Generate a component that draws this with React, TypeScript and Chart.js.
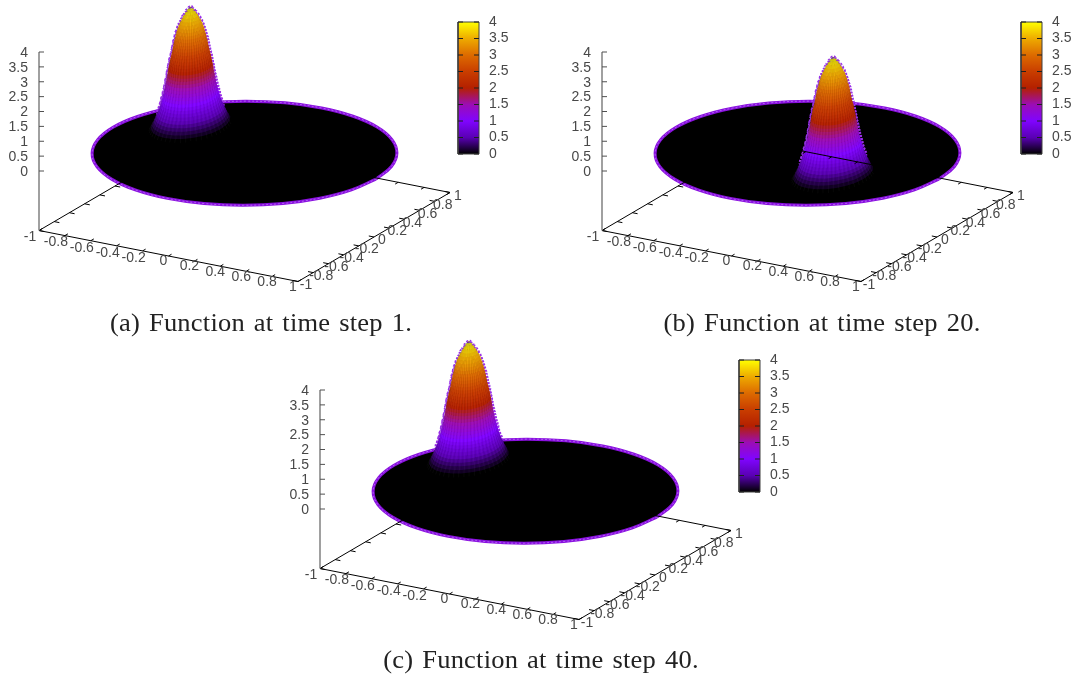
import React, { useEffect, useRef } from "react";
import { Chart, registerables } from "chart.js";

Chart.register(...registerables);

// ---------- data ----------
const captions = ["(a) Function at time step 1.", "(b) Function at time step 20.", "(c) Function at time step 40."];
const peakCenterX = [-0.57, 0.385, -0.62];
const peakCenterY = [0.26, -0.32, 0.31];
const peakSpreadX = 0.235;
const peakSpreadY = 0.34;
const peakLevels = [0, 0.1, 0.2, 0.3, 0.4, 0.5, 0.6, 0.7, 0.8, 0.9, 1, 1.1, 1.2, 1.3, 1.4, 1.5, 1.6, 1.7, 1.8, 1.9, 2, 2.1, 2.2, 2.3, 2.4, 2.5, 2.6, 2.7, 2.8, 2.9, 3, 3.1, 3.2, 3.3, 3.4, 3.5, 3.6, 3.7, 3.8, 3.9, 4];
const peakRadii = [1.04, 1, 0.96, 0.92, 0.885, 0.85, 0.815, 0.785, 0.76, 0.74, 0.72, 0.7, 0.68, 0.66, 0.645, 0.63, 0.615, 0.6, 0.585, 0.575, 0.56, 0.545, 0.53, 0.515, 0.495, 0.475, 0.46, 0.445, 0.43, 0.415, 0.395, 0.375, 0.355, 0.33, 0.305, 0.27, 0.23, 0.19, 0.14, 0.09, 0.02];
const discRadius = 1.015;
const discLevel = -0.04;
const discX = [1, 0.966, 0.866, 0.707, 0.5, 0.259, 0, -0.259, -0.5, -0.707, -0.866, -0.966, -1, -0.966, -0.866, -0.707, -0.5, -0.259, 0, 0.259, 0.5, 0.707, 0.866, 0.966, 1];
const discY = [0, 0.259, 0.5, 0.707, 0.866, 0.966, 1, 0.966, 0.866, 0.707, 0.5, 0.259, 0, -0.259, -0.5, -0.707, -0.866, -0.966, -1, -0.966, -0.866, -0.707, -0.5, -0.259, 0];
const xyTicks = [-1, -0.8, -0.6, -0.4, -0.2, 0, 0.2, 0.4, 0.6, 0.8, 1];
const zTicks = [0, 0.5, 1, 1.5, 2, 2.5, 3, 3.5, 4];
const paletteStops = ["#000000", "#5a00b4", "#8004ff", "#9c0db4", "#b42000", "#c93e00", "#dd6b00", "#eeab00", "#ffff00"];

// ---------- layout ----------
const W = 518;
const H = 312;
const panelLeft = [0, 563, 281];
const panelTop = [0, 0, 338];
const captionCx = [261, 822, 541];
const captionY = [324, 324, 661];
const FONT = '14px "Liberation Sans"';
const TEXT = "#484848";
const BASE_Z = -2;
const STREAKS = 48;

const project = (x: number, y: number, z: number) => ({
  x: 244.5 + 129.5 * x + 76 * y,
  y: 152 + 25.5 * x - 44.5 * y - 29.75 * z,
});
const cb = (c: number, z: number) => ({ x: c, y: 154 - 33 * z });
const gap = { x: NaN, y: NaN };

const hexRgb = (h: string) => [1, 3, 5].map((i) => parseInt(h.slice(i, i + 2), 16));
const paletteAt = (z: number) => {
  const t = Math.min(0.9999, Math.max(0, z / 4)) * (paletteStops.length - 1);
  const i = Math.floor(t);
  const a = hexRgb(paletteStops[i]);
  const b = hexRgb(paletteStops[i + 1]);
  const f = t - i;
  return `rgb(${a.map((v, k) => Math.round(v + (b[k] - v) * f)).join(",")})`;
};

const ring = (cx: number, cy: number, r: number, z: number) =>
  discX.map((u, i) => project(cx + r * peakSpreadX * u, cy + r * peakSpreadY * discY[i], z));

const segs = (list: { x: number; y: number }[][]) => list.flatMap((s) => [...s, gap]);

function Panel({ index }: { index: number }) {
  const ref = useRef<HTMLCanvasElement>(null);
  useEffect(() => {
    const canvas = ref.current!;
    const ctx = canvas.getContext("2d")!;
    const cx = peakCenterX[index];
    const cy = peakCenterY[index];

    const grad = ctx.createLinearGradient(0, cb(0, 0).y, 0, cb(0, 4).y);
    paletteStops.forEach((c, i) => grad.addColorStop(i / (paletteStops.length - 1), c));

    const line = (data: any[], color: string, width = 1, extra: any = {}) => ({
      data, borderColor: color, borderWidth: width, showLine: true, pointRadius: 0, fill: false, tension: 0, ...extra,
    });

    const discPts = discX.map((u, i) => project(discRadius * u, discRadius * discY[i], discLevel));
    const fringe = peakLevels
      .map((z, i) => ({ z, r: peakRadii[i] }))
      .filter((l) => l.z >= 0.6)
      .map((l) => line(ring(cx, cy, l.r + 0.03, l.z), "#9a30e8", 1.6, { borderDash: [2, 1.5] }));
    const rings = peakLevels.map((z, i) =>
      line(ring(cx, cy, peakRadii[i], z), paletteAt(z), 0, { fill: "shape", backgroundColor: paletteAt(z), borderWidth: 0 })
    );

    // fine mesh streaks running down the near side of the peak
    const streaks = Array.from({ length: STREAKS }, (_, k) => {
      const a = (k / (STREAKS - 1)) * Math.PI;
      const dirX = Math.cos(a + 0.55) * -1;
      const dirY = -Math.sin(a + 0.55);
      const pts = peakLevels.map((z, i) =>
        project(cx + peakRadii[i] * peakSpreadX * dirX, cy + peakRadii[i] * peakSpreadY * dirY, z)
      );
      return line(pts, k % 2 ? "rgba(0,0,0,0.07)" : "rgba(255,255,255,0.03)", 1);
    });

    const frame = [
      [project(-1, -1, BASE_Z), project(1, -1, BASE_Z), project(1, 1, BASE_Z), project(-1, 1, BASE_Z), project(-1, -1, BASE_Z)],
    ];
    const tickLen = 0.04;
    const xyMarks = xyTicks.flatMap((t) => [
      [project(t, -1, BASE_Z), project(t, -1 + tickLen, BASE_Z)],
      [project(t, 1, BASE_Z), project(t, 1 - tickLen, BASE_Z)],
      [project(1, t, BASE_Z), project(1 - tickLen, t, BASE_Z)],
      [project(-1, t, BASE_Z), project(-1 + tickLen, t, BASE_Z)],
    ]);
    const zAxis = [[project(-1, -1, BASE_Z), project(-1, -1, 4)]];
    const zMarks = zTicks.map((t) => {
      const p = project(-1, -1, t);
      return [p, { x: p.x + 5, y: p.y }];
    });
    const cbMarks = zTicks.flatMap((t) => [
      [cb(458, t), cb(463, t)],
      [cb(479, t), cb(474, t)],
    ]);

    const datasets: any[] = [
      line(discPts, "#8a10e0", 3, { fill: "shape", backgroundColor: "#000000", tension: 0.4 }),
      line(discPts, "#b060f0", 1, { borderDash: [2, 2], tension: 0.4 }),
      ...fringe,
      ...rings,
      ...streaks,
      line(segs(frame), "#000000"),
      line(segs(xyMarks), "#000000"),
      line(segs(zAxis), "#808080", 1.5),
      line(segs(zMarks), "#505050"),
      line([cb(458, 0), cb(479, 0), cb(479, 4), cb(458, 4), cb(458, 0)], "#404040", 1, { fill: "shape", backgroundColor: grad }),
      line(segs(cbMarks), "#202020"),
    ];
    datasets.forEach((d, i) => (d.order = -i));

    const labels = {
      id: "axisLabels",
      afterDraw(chart: any) {
        const c = chart.ctx;
        const sx = chart.scales.x;
        const sy = chart.scales.y;
        const put = (txt: string, x: number, y: number, align: CanvasTextAlign) => {
          c.textAlign = align;
          c.fillText(txt, sx.getPixelForValue(x), sy.getPixelForValue(y));
        };
        c.save();
        c.font = FONT;
        c.fillStyle = TEXT;
        c.textBaseline = "middle";
        xyTicks.forEach((t) => {
          const a = project(t, -1, BASE_Z);
          put(String(t), a.x + (t < 0 ? -9 : -5), a.y + (t < 0 ? 7 : 5.5), "center");
          const b = project(1, t, BASE_Z);
          put(String(t), b.x + 8, b.y + 3.5, "center");
        });
        zTicks.forEach((t) => {
          const p = project(-1, -1, t);
          put(String(t), 28, p.y + 1, "right");
          const q = cb(489, t);
          put(String(t), q.x, q.y, "left");
        });
        c.restore();
      },
    };

    const chart = new Chart(canvas, {
      type: "scatter",
      data: { datasets },
      options: {
        animation: false,
        responsive: false,
        devicePixelRatio: 1,
        layout: { padding: 0 },
        plugins: { legend: { display: false }, tooltip: { enabled: false } },
        events: [],
        scales: {
          x: { type: "linear", display: false, min: 0, max: W },
          y: { type: "linear", display: false, min: 0, max: H, reverse: true },
        },
      },
      plugins: [labels],
    } as any);
    return () => chart.destroy();
  }, [index]);
  return (
    <canvas
      ref={ref}
      width={W}
      height={H}
      style={{ position: "absolute", left: panelLeft[index], top: panelTop[index], width: W, height: H }}
    />
  );
}

export default function App() {
  return (
    <div style={{ position: "absolute", left: 0, top: 0, width: 1081, height: 682, overflow: "hidden", background: "#fff" }}>
      {captions.map((_, i) => (
        <Panel key={i} index={i} />
      ))}
      {captions.map((t, i) => (
        <div
          key={t}
          style={{
            position: "absolute",
            left: captionCx[i] - 200,
            width: 400,
            top: captionY[i] - 15,
            height: 30,
            lineHeight: "30px",
            textAlign: "center",
            font: '25px "Liberation Serif"',
            letterSpacing: "0.2px",
            wordSpacing: "2px",
            transform: "scaleX(1.06)",
            color: "#222",
          }}
        >
          {t}
        </div>
      ))}
    </div>
  );
}
